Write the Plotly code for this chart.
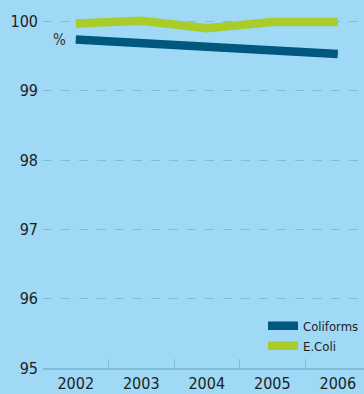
import plotly.graph_objects as go

years = ["2002", "2003", "2004", "2005", "2006"]
coliforms = [99.74, 99.68, 99.62, 99.59, 99.53]
ecoli = [99.97, 100.01, 99.90, 99.99, 99.99]
y_ticks = [95, 96, 97, 98, 99, 100]

BG = "#9fd9f5"
GRID = "#80bcd9"
FONT = "DejaVu Sans Condensed, Liberation Sans Narrow, Roboto, sans-serif"

fig = go.Figure()
fig.add_trace(go.Scatter(
    x=years, y=coliforms, name="Coliforms", mode="lines",
    line=dict(color="#00587e", width=8.5),
))
fig.add_trace(go.Scatter(
    x=years, y=ecoli, name="E.Coli", mode="lines",
    line=dict(color="#a8cc2a", width=8.5),
))

fig.update_layout(
    width=364, height=394,
    margin=dict(l=43, r=0, t=11, b=26),
    paper_bgcolor=BG, plot_bgcolor=BG,
    font=dict(family=FONT, color="#1e1e1e", size=16),
    showlegend=True,
    legend=dict(
        x=1.0, xanchor="right", y=0.02, yanchor="bottom",
        bgcolor="rgba(0,0,0,0)", font=dict(size=13, color="#1e1e1e"),
        itemwidth=30, tracegroupgap=0,
    ),
    annotations=[dict(
        x=0.05, xref="paper", y=99.73, yref="y", text="%", showarrow=False,
        font=dict(size=15, color="#333333"), xanchor="center", yanchor="middle",
    )],
)
fig.update_xaxes(
    type="category", range=[-0.5, 4.4], showgrid=False,
    showline=True, linecolor=GRID, linewidth=1.5,
    ticks="inside", tickson="boundaries", ticklen=9, tickcolor=GRID,
    tickfont=dict(size=16), zeroline=False,
)
fig.update_yaxes(
    range=[95, 100.15], tickvals=y_ticks, showgrid=True,
    gridcolor=GRID, griddash="dash", gridwidth=1,
    showline=False, zeroline=False, ticks="", ticklabelstandoff=4,
    tickfont=dict(size=16),
)

fig.write_html("out.html")
